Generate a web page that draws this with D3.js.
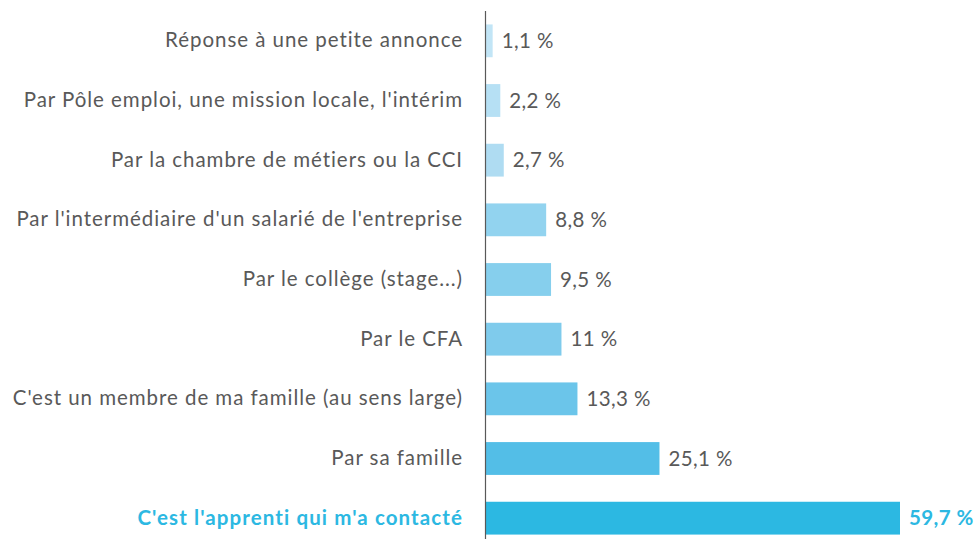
<!DOCTYPE html>
<html lang="fr">
<head>
<meta charset="UTF-8">
<title>Mise en relation apprenti / entreprise</title>
<style>
  body { margin: 0; background: #fff; }
  svg text { font-family: Lato, "Open Sans", sans-serif; }
</style>
</head>
<body>
<div id="chart"></div>
<script src="https://d3js.org/d3.v7.min.js"></script>
<script>
const categories = [
  "Réponse à une petite annonce",
  "Par Pôle emploi, une mission locale, l'intérim",
  "Par la chambre de métiers ou la CCI",
  "Par l'intermédiaire d'un salarié de l'entreprise",
  "Par le collège (stage...)",
  "Par le CFA",
  "C'est un membre de ma famille (au sens large)",
  "Par sa famille",
  "C'est l'apprenti qui m'a contacté"
];
const values = [1.1, 2.2, 2.7, 8.8, 9.5, 11, 13.3, 25.1, 59.7];
const valueLabels = ["1,1 %", "2,2 %", "2,7 %", "8,8 %", "9,5 %", "11 %", "13,3 %", "25,1 %", "59,7 %"];
const barColors = ["#c2e5f6", "#b6e0f4", "#afdcf2", "#92d3ef", "#86cfed", "#7fcbec", "#6bc5ea", "#53bee7", "#2cb8e2"];

const w = 974, h = 539;
const axisX = 485;
const textGrey = "#595959";
const highlight = "#2cb8e2";
const fontSize = 20.5;

const svg = d3.select("#chart").append("svg")
  .attr("width", w)
  .attr("height", h);

const x = d3.scaleLinear()
  .domain([0, 59.7])
  .range([axisX, 900]);

const y = d3.scaleBand()
  .domain(categories)
  .range([11, 548])
  .paddingInner(0.45)
  .paddingOuter(0.225);

svg.selectAll("rect.bar")
  .data(values)
  .enter()
  .append("rect")
  .attr("class", "bar")
  .attr("x", x(0))
  .attr("y", (d, i) => y(categories[i]))
  .attr("width", d => x(d) - x(0))
  .attr("height", y.bandwidth())
  .attr("fill", (d, i) => barColors[i]);

// category labels via a left axis with no ticks
const last = categories[categories.length - 1];
const yAxis = d3.axisLeft(y).tickSize(0).tickPadding(22);
const gy = svg.append("g")
  .attr("transform", `translate(${axisX},0)`)
  .call(yAxis);
gy.select(".domain")
  .attr("stroke", "#595959")
  .attr("stroke-width", 1.2)
  .attr("d", `M0.5,11V${h}`);
gy.selectAll(".tick text")
  .attr("font-size", fontSize)
  .attr("font-family", "Lato, sans-serif")
  .attr("letter-spacing", d => d === last ? 1.1 : 0.95)
  .attr("fill", d => d === last ? highlight : textGrey)
  .attr("font-weight", d => d === last ? "bold" : "normal");

// value labels
svg.selectAll("text.val")
  .data(values)
  .enter()
  .append("text")
  .attr("class", "val")
  .attr("x", d => x(d) + 9)
  .attr("y", (d, i) => y(categories[i]) + y.bandwidth() / 2)
  .attr("dy", "0.35em")
  .attr("font-size", fontSize)
  .attr("letter-spacing", 0.4)
  .attr("fill", (d, i) => i === values.length - 1 ? highlight : textGrey)
  .attr("font-weight", (d, i) => i === values.length - 1 ? "bold" : "normal")
  .text((d, i) => valueLabels[i]);
</script>
</body>
</html>
